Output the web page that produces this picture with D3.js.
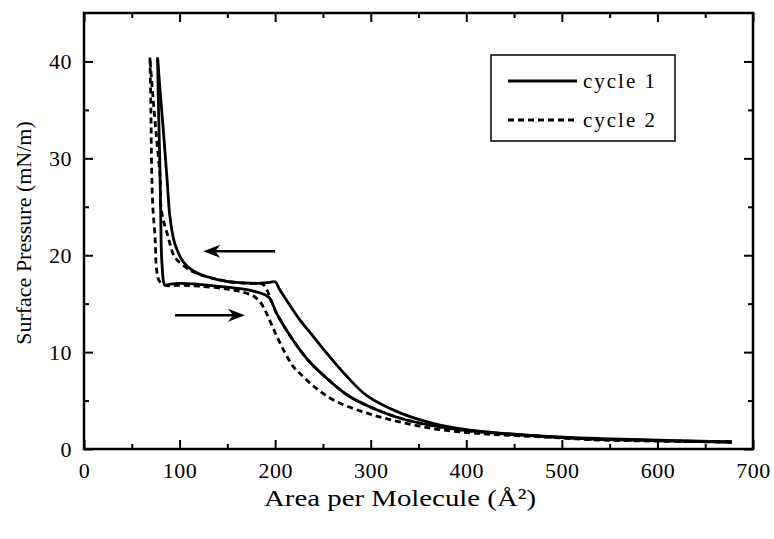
<!DOCTYPE html>
<html>
<head>
<meta charset="utf-8">
<script src="https://cdn.jsdelivr.net/npm/d3@7"></script>
<style>
  html, body { margin: 0; padding: 0; background: #fff; }
  svg { display: block; }
  text { font-family: "Liberation Serif", "Times New Roman", serif; fill: #000; }
</style>
</head>
<body>
<div id="chart"></div>
<script>
// ---- Data ----
const xTicks = [0, 100, 200, 300, 400, 500, 600, 700];
const yTicks = [0, 10, 20, 30, 40];
const xLabel = "Area per Molecule (Å²)";
const yLabel = "Surface Pressure (mN/m)";
const seriesNames = ["cycle 1", "cycle 2"];

// cycle 1, compression (solid)
const c1CompX = [678, 620, 574, 540, 505, 470, 435, 400, 365, 330, 296, 275, 254, 240, 226, 219, 205, 200, 194.6, 180, 166, 149, 128, 114, 104, 95, 90, 87, 83, 80, 77];
const c1CompY = [0.72, 0.86, 1.0, 1.08, 1.2, 1.4, 1.64, 2.0, 2.65, 3.75, 5.5, 7.5, 9.9, 11.6, 13.3, 14.3, 16.4, 17.25, 17.2, 17.1, 17.15, 17.3, 17.8, 18.4, 19.3, 21.2, 23.9, 27.7, 32.9, 36.5, 40.4];
// cycle 1, expansion (solid)
const c1ExpX = [77, 78, 79.5, 80.3, 81, 82, 83, 84.7, 90, 100, 120, 149, 177, 193, 201.5, 219, 236, 254, 275, 296, 330, 365, 400, 435, 470, 505, 540, 574, 620, 678];
const c1ExpY = [40.4, 35, 28.8, 24, 20.2, 18.5, 17.4, 16.9, 17.0, 17.1, 17.0, 16.7, 16.3, 15.7, 14.0, 11.2, 9.0, 7.3, 5.6, 4.5, 3.2, 2.4, 1.9, 1.6, 1.35, 1.15, 1.0, 0.92, 0.82, 0.72];
// cycle 2, compression (dashed)
const c2CompX = [678, 620, 574, 540, 505, 470, 435, 400, 365, 330, 296, 275, 254, 236, 219, 201.5, 196, 192, 187, 170, 150, 128, 114, 106, 95, 88, 81, 79.5, 76, 72, 69];
const c2CompY = [0.72, 0.82, 0.92, 1.0, 1.15, 1.35, 1.6, 1.9, 2.4, 3.2, 4.5, 5.6, 7.3, 9.0, 11.2, 14.0, 15.3, 16.3, 17.0, 17.1, 17.3, 17.8, 18.3, 18.8, 19.8, 21.9, 24.6, 28.2, 32, 36.5, 40.4];
// cycle 2, expansion (dashed)
const c2ExpX = [69, 70, 70.8, 72, 74.3, 76, 78.5, 85, 100, 120, 150, 175, 184, 191, 200, 210, 219, 226, 240, 261, 296, 330, 365, 400, 435, 470, 505, 540, 574, 620, 678];
const c2ExpY = [40.4, 35, 28.8, 25, 21.9, 18.5, 17.4, 16.9, 16.9, 16.8, 16.5, 15.9, 15.2, 14.0, 12.0, 10.0, 8.5, 7.8, 6.5, 5.05, 3.7, 2.8, 2.1, 1.7, 1.45, 1.3, 1.1, 0.93, 0.85, 0.78, 0.72];

// arrows: [x start, x tip, y]
const arrowCompress = [200, 124.8, 20.4];
const arrowExpand = [95.2, 168.4, 13.8];

// ---- Layout ----
const W = 774, H = 539;
const m = { left: 84, right: 21, top: 13, bottom: 90 };
const iw = W - m.left - m.right, ih = H - m.top - m.bottom;

const svg = d3.select("#chart").append("svg").attr("width", W).attr("height", H);
const g = svg.append("g").attr("transform", `translate(${m.left},${m.top})`);

const x = d3.scaleLinear().domain([0, 700]).range([0, iw]);
const y = d3.scaleLinear().domain([0, 45]).range([ih, 0]);

const xMinor = d3.range(50, 700, 100);
const yMinor = d3.range(5, 45, 10);

// axes: ticks inward on all four sides
function styleAxis(sel) {
  sel.select(".domain").remove();
  sel.selectAll(".tick line").attr("stroke", "#000").attr("stroke-width", 2);
}
const fs = 22;
g.append("g").attr("transform", `translate(0,${ih})`)
  .call(d3.axisBottom(x).tickValues(xTicks).tickSize(-9).tickPadding(13).tickFormat(d3.format("d")))
  .call(styleAxis)
  .call(s => s.selectAll("text").attr("font-size", fs).attr("font-family", "Liberation Serif").attr("letter-spacing", 0.5));
g.append("g").attr("transform", `translate(0,${ih})`)
  .call(d3.axisBottom(x).tickValues(xMinor).tickSize(-5).tickFormat(""))
  .call(styleAxis);
g.append("g")
  .call(d3.axisTop(x).tickValues(xTicks).tickSize(-9).tickFormat(""))
  .call(styleAxis);
g.append("g")
  .call(d3.axisTop(x).tickValues(xMinor).tickSize(-5).tickFormat(""))
  .call(styleAxis);
g.append("g")
  .call(d3.axisLeft(y).tickValues(yTicks).tickSize(-9).tickPadding(12).tickFormat(d3.format("d")))
  .call(styleAxis)
  .call(s => s.selectAll("text").attr("font-size", fs).attr("font-family", "Liberation Serif").attr("letter-spacing", 0.5));
g.append("g")
  .call(d3.axisLeft(y).tickValues(yMinor).tickSize(-5).tickFormat(""))
  .call(styleAxis);
g.append("g").attr("transform", `translate(${iw},0)`)
  .call(d3.axisRight(y).tickValues(yTicks).tickSize(-9).tickFormat(""))
  .call(styleAxis);
g.append("g").attr("transform", `translate(${iw},0)`)
  .call(d3.axisRight(y).tickValues(yMinor).tickSize(-5).tickFormat(""))
  .call(styleAxis);

// frame
g.append("rect").attr("x", 0).attr("y", 0).attr("width", iw).attr("height", ih)
  .attr("fill", "none").attr("stroke", "#000").attr("stroke-width", 2.5);

// curves
const line = d3.line().x(d => x(d[0])).y(d => y(d[1])).curve(d3.curveCatmullRom.alpha(0.5));
const zip = (xs, ys) => xs.map((v, i) => [v, ys[i]]);
const series = [
  { pts: zip(c1CompX, c1CompY), dash: null },
  { pts: zip(c1ExpX, c1ExpY), dash: null },
  { pts: zip(c2CompX, c2CompY), dash: "6,4" },
  { pts: zip(c2ExpX, c2ExpY), dash: "6,4" }
];
series.forEach(s => {
  g.append("path").datum(s.pts).attr("d", line)
    .attr("fill", "none").attr("stroke", "#000").attr("stroke-width", 2.8)
    .attr("stroke-linejoin", "round")
    .attr("stroke-dasharray", s.dash);
});

// arrows
function arrow(a) {
  const x0 = x(a[0]), x1 = x(a[1]), yy = y(a[2]);
  const dir = Math.sign(x1 - x0);
  const hl = 17, hw = 6.5;
  g.append("line").attr("x1", x0).attr("x2", x1 - dir * hl * 0.6).attr("y1", yy).attr("y2", yy)
    .attr("stroke", "#000").attr("stroke-width", 2.5);
  g.append("path")
    .attr("d", `M${x1},${yy} L${x1 - dir * hl},${yy - hw} L${x1 - dir * hl * 0.7},${yy} L${x1 - dir * hl},${yy + hw} Z`)
    .attr("fill", "#000");
}
arrow(arrowCompress);
arrow(arrowExpand);

// axis titles
svg.append("text").attr("x", 400).attr("y", 506).attr("text-anchor", "middle")
  .attr("font-size", 24).attr("textLength", 272).attr("lengthAdjust", "spacingAndGlyphs")
  .text(xLabel);
svg.append("text").attr("transform", "translate(31,233) rotate(-90)").attr("text-anchor", "middle")
  .attr("font-size", 22)
  .text(yLabel);

// legend
const lg = svg.append("g");
lg.append("rect").attr("x", 491).attr("y", 55).attr("width", 184).attr("height", 86)
  .attr("fill", "#fff").attr("stroke", "#000").attr("stroke-width", 1.5);
seriesNames.forEach((name, i) => {
  const ly = 81 + i * 39;
  lg.append("line").attr("x1", 508).attr("x2", 577).attr("y1", ly).attr("y2", ly)
    .attr("stroke", "#000").attr("stroke-width", 2.8)
    .attr("stroke-dasharray", i === 1 ? "6,4" : null);
  lg.append("text").attr("x", 583).attr("y", ly + 7).attr("font-size", 21)
    .attr("textLength", 72).attr("lengthAdjust", "spacing").text(name);
});
</script>
</body>
</html>
